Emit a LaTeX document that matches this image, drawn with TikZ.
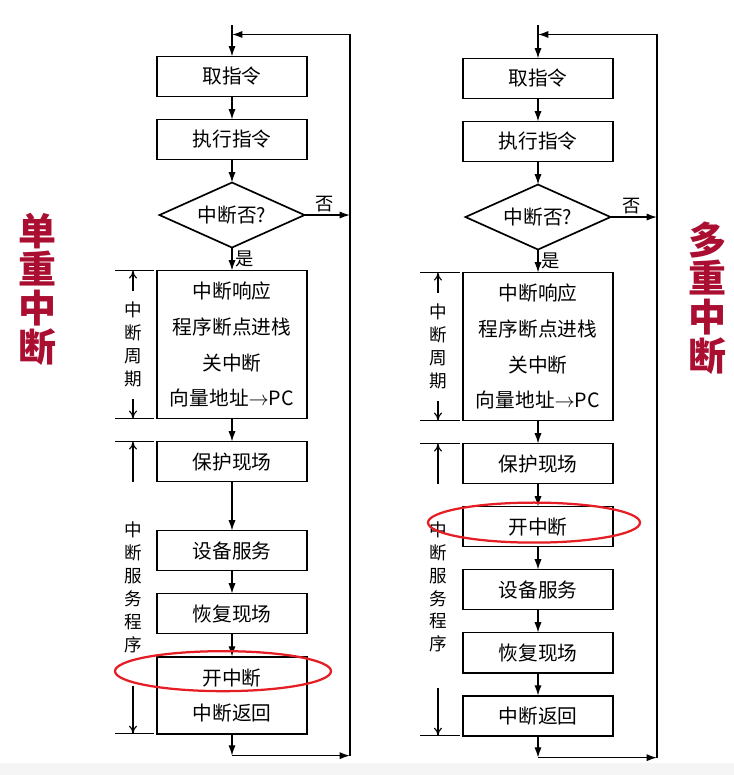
\documentclass[tikz,border=0pt]{standalone}
\usepackage{fontspec}
\setmainfont{Noto Sans CJK SC}
\usepackage{xcolor}
\usetikzlibrary{shapes.geometric, arrows.meta, positioning, calc}
\definecolor{slidered}{RGB}{170,15,50}
\definecolor{ringred}{RGB}{228,30,36}

\begin{document}
\begin{tikzpicture}[
  x=0.025cm, y=0.025cm,
  node distance=5.75mm,
  box/.style={draw,line width=1.2pt,minimum width=3.75cm,minimum height=1cm,inner sep=2pt,
              outer sep=0pt,font=\fontsize{14}{17}\selectfont,align=center},
  tall/.style={box,minimum height=3.7cm,font=\fontsize{14}{25.5}\selectfont},
  twin/.style={box,minimum height=1.925cm,font=\fontsize{14}{24.8}\selectfont},
  ask/.style={draw,diamond,aspect=2.23,line width=1.2pt,minimum width=3.625cm,outer sep=0pt,
              minimum height=1.625cm,inner sep=0pt,font=\fontsize{14}{17}\selectfont},
  flow/.style={-{Latex[length=2.6mm,width=1.8mm]}, line width=1pt},
  back/.style={line width=1pt},
  ticks/.style={line width=0.8pt},
  span/.style={-{To[length=2mm,width=2mm]}, line width=0.8pt},
  vlab/.style={align=center,font=\fontsize{12.5}{16.3}\selectfont,inner sep=0pt},
  sidelab/.style={align=center,text=slidered,font=\fontsize{27}{27.5}\selectfont\bfseries,inner sep=0pt},
  tag/.style={font=\fontsize{13}{15}\selectfont,inner sep=2pt},
  ring/.style={draw=ringred,line width=1.6pt},
]
\useasboundingbox (0,0) rectangle (734,-775);
\fill[black!4] (0,-763) rectangle (734,-775);

% side titles
\node[sidelab] (single) at (37,-289) {单\\重\\中\\断};
\node[sidelab] (multi)  at (707,-298) {多\\重\\中\\断};

% single interrupt chart
\node[box] (L1) at (232,-76.5) {取指令};
\node[box, below=of L1] (L2) {执行指令};
\node[ask, below=of L2] (L3) {中断否?};
\node[tall, below=of L3] (L4) {中断响应\\程序断点进栈\\关中断\\向量地址$\to$PC};
\node[box, below=of L4] (L5) {保护现场};
\node[box, below=12.25mm of L5] (L6) {设备服务};
\node[box, below=of L6] (L7) {恢复现场};
\node[twin, below=of L7] (L9) {开中断\\中断返回};

\coordinate (L0) at ($(L1.north)+(0,31)$);
\coordinate (Lj) at ($(L1.north)+(0,22)$);
\coordinate (Lr) at ($(Lj)+(118,0)$);
\coordinate (Lb) at ($(L9.south)+(0,-22)$);

\draw[flow] (L0) -- (L1);
\draw[flow] (L1) -- (L2);
\draw[flow] (L2) -- (L3);
\draw[flow] (L3) -- node[tag,above,pos=0.45]{否} (L3 -| Lr);
\draw[flow] (L3) -- node[tag,right]{是} (L4);
\draw[flow] (L4) -- (L5);
\draw[flow] (L5) -- (L6);
\draw[flow] (L6) -- (L7);
\draw[flow] (L7) -- (L9);
\draw[flow] (L9) -- (Lb);
\draw[flow] (Lb) -- (Lb -| Lr);
\draw[flow] (Lb -| Lr) -- (Lr) -- (Lj);

% brackets left
\draw[ticks] ($(L4.north west)+(-3,0)$) -- ++(-39,0);
\draw[ticks] ($(L4.south west)+(-3,0)$) -- ++(-39,0);
\node[vlab] (L4lab) at ($(L4.west)+(-24,0)$) {中\\断\\周\\期};
\draw[span] ($(L4lab.north)+(0,11)$) -- (L4lab.north |- L4.north);
\draw[span] ($(L4lab.south)+(0,-12)$) -- (L4lab.south |- L4.south);
\draw[ticks] ($(L5.north west)+(-3,0)$) -- ++(-39,0);
\draw[ticks] ($(L9.south west)+(-3,0)$) -- ++(-39,0);
\draw[span] ($(L5.south west)+(-24,0)$) -- ($(L5.north west)+(-24,0)$);
\node[vlab] (L5lab) at ($(L5.south west)!0.42!(L9.south west)+(-24,0)$) {中\\断\\服\\务\\程\\序};
\draw[span] ($(L9.south west)+(-24,48)$) -- ($(L9.south west)+(-24,0)$);

\draw[ring] ($(L9.center)+(-9,24)$) ellipse [x radius=108, y radius=20];

% multiple interrupt chart
\node[box] (R1) at (538,-78.5) {取指令};
\node[box, below=of R1] (R2) {执行指令};
\node[ask, below=of R2] (R3) {中断否?};
\node[tall, below=of R3] (R4) {中断响应\\程序断点进栈\\关中断\\向量地址$\to$PC};
\node[box, below=of R4] (R5) {保护现场};
\node[box, below=of R5] (R6) {开中断};
\node[box, below=of R6] (R7) {设备服务};
\node[box, below=of R7] (R8) {恢复现场};
\node[box, below=of R8] (R9) {中断返回};

\coordinate (R0) at ($(R1.north)+(0,33)$);
\coordinate (Rj) at ($(R1.north)+(0,24)$);
\coordinate (Rr) at ($(Rj)+(119,0)$);
\coordinate (Rb) at ($(R9.south)+(0,-22)$);

\draw[flow] (R0) -- (R1);
\draw[flow] (R1) -- (R2);
\draw[flow] (R2) -- (R3);
\draw[flow] (R3) -- node[tag,above,pos=0.45]{否} (R3 -| Rr);
\draw[flow] (R3) -- node[tag,right]{是} (R4);
\draw[flow] (R4) -- (R5);
\draw[flow] (R5) -- (R6);
\draw[flow] (R6) -- (R7);
\draw[flow] (R7) -- (R8);
\draw[flow] (R8) -- (R9);
\draw[flow] (R9) -- (Rb);
\draw[flow] (Rb) -- (Rb -| Rr);
\draw[flow] (Rb -| Rr) -- (Rr) -- (Rj);

% brackets right
\draw[ticks] ($(R4.north west)+(-3,0)$) -- ++(-40,0);
\draw[ticks] ($(R4.south west)+(-3,0)$) -- ++(-40,0);
\node[vlab] (R4lab) at ($(R4.west)+(-25,0)$) {中\\断\\周\\期};
\draw[span] ($(R4lab.north)+(0,11)$) -- (R4lab.north |- R4.north);
\draw[span] ($(R4lab.south)+(0,-12)$) -- (R4lab.south |- R4.south);
\draw[ticks] ($(R5.north west)+(-3,0)$) -- ++(-40,0);
\draw[ticks] ($(R9.south west)+(-3,0)$) -- ++(-40,0);
\draw[span] ($(R5.south west)+(-25,0)$) -- ($(R5.north west)+(-25,0)$);
\node[vlab] (R5lab) at ($(R5.south west)!0.41!(R9.south west)+(-25,0)$) {中\\断\\服\\务\\程\\序};
\draw[span] ($(R9.south west)+(-25,48)$) -- ($(R9.south west)+(-25,0)$);

\draw[ring] ($(R6.center)+(-4,4)$) ellipse [x radius=106, y radius=20];

\end{tikzpicture}
\end{document}
